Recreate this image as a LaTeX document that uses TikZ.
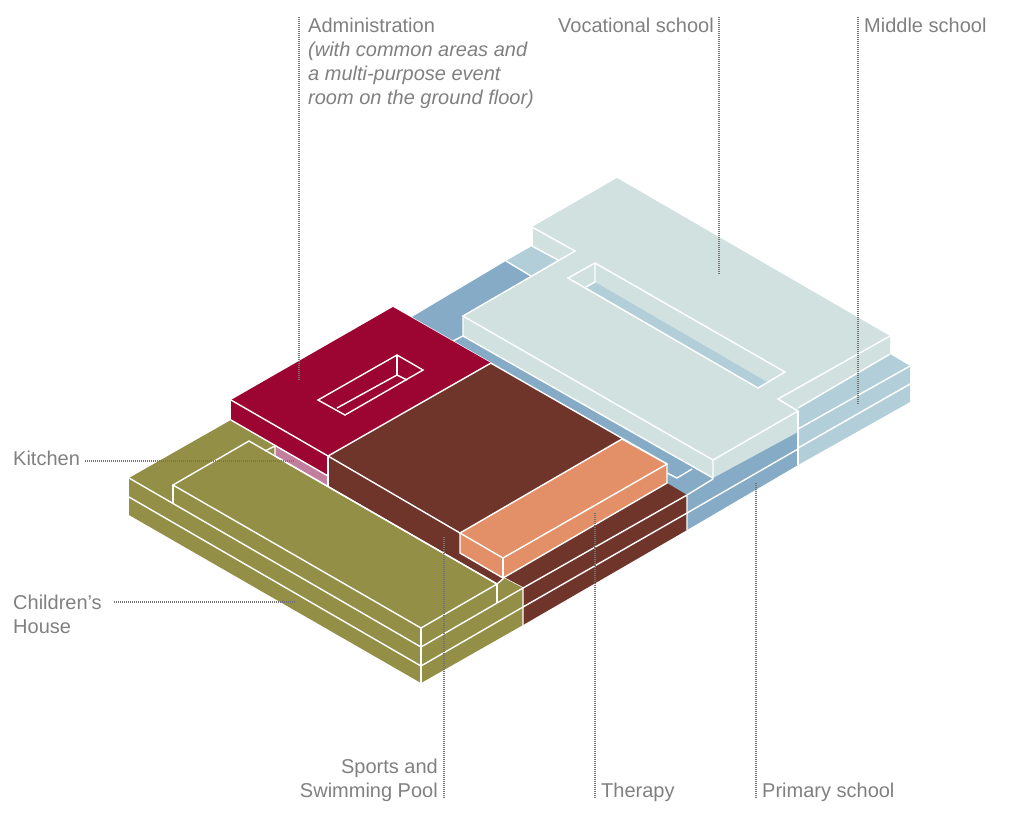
\documentclass[tikz,border=0pt]{standalone}
\usepackage{fontspec}
\setmainfont{Liberation Sans}
\usepackage{tikz}
\usetikzlibrary{positioning,calc}
\definecolor{palewing}{HTML}{D0E1E0}
\definecolor{midwing}{HTML}{B2CFD9}
\definecolor{bluewing}{HTML}{85ABC6}
\definecolor{adminred}{HTML}{9C0431}
\definecolor{sportsbrown}{HTML}{6F342A}
\definecolor{therapyorange}{HTML}{E39068}
\definecolor{houseolive}{HTML}{938F46}
\definecolor{kitchenpink}{HTML}{C27F9D}
\definecolor{labelgray}{HTML}{808080}
\begin{document}
\begin{tikzpicture}[
    x=1pt, y=-1pt,
    edge/.style={white, line width=1.4pt, line join=miter},
    leader/.style={draw=black!55, line width=1.4pt, dash pattern=on 1pt off 1pt},
    lbl/.style={text=labelgray, inner sep=0pt, font=\fontsize{20}{24}\selectfont}
]
    \useasboundingbox (0,0) rectangle (1024,820);

    \fill[midwing] (798,408) -- (890,354) -- (910,366) -- (910,402) -- (798,465) -- cycle;
    \fill[bluewing] (412,317) -- (506,261) -- (531,276) -- (798,432) -- (798,465) -- (687,530) -- (660,500) -- cycle;
    \fill[midwing] (506,261) -- (532,246) -- (558,260) -- (531,276) -- cycle;
    \fill[palewing] (617,178) -- (890,336) -- (890,354) -- (798,408) -- (798,432) -- (713,478) -- (463,336) -- (463,316) -- (558,261) -- (532,246) -- (532,227) -- cycle;
    \fill[midwing] (586,287) -- (595,282) -- (767,382) -- (758,388) -- cycle;

    \draw[edge] (798,429) -- (910,366);
    \draw[edge] (798,448) -- (910,384);
    \draw[edge] (798,408) -- (890,354);
    \draw[edge] (798,411) -- (798,465);
    \draw[edge] (798,449) -- (687,513);
    \draw[edge] (506,261) -- (531,276);
    \draw[edge] (532,246) -- (558,260);
    \draw[edge] (532,227) -- (532,246);
    \draw[edge] (532,227) -- (575,251) -- (463,316) -- (713,460) -- (798,411) -- (778,399) -- (890,336);
    \draw[edge] (463,316) -- (463,336) -- (713,478) -- (713,460);
    \draw[edge] (453,341) -- (463,336);
    \draw[edge] (687,495) -- (713,479);
    \draw[edge] (667,473) -- (677,478) -- (692,469);
    \draw[edge] (568,278) -- (595,263) -- (785,372) -- (758,388) -- cycle;
    \draw[edge] (595,263) -- (595,282) -- (586,287);

    \fill[sportsbrown] (328,456) -- (491,363) -- (622,439) -- (667,464) -- (667,483) -- (687,495) -- (687,530) -- (523,625) -- (523,600) -- (328,490) -- cycle;
    \draw[edge] (393,307) -- (667,464);
    \draw[edge] (523,588) -- (687,495) -- (687,530);
    \draw[edge] (523,607) -- (687,513);
    \draw[edge] (328,456) -- (460,533);
    \draw[edge] (504,578) -- (523,588);

    \fill[therapyorange] (460,533) -- (622,439) -- (667,464) -- (667,483) -- (503,578) -- (460,553) -- cycle;
    \draw[edge] (622,439) -- (667,464) -- (503,558) -- (460,533) -- cycle;
    \draw[edge] (667,464) -- (667,483) -- (503,578) -- (460,553) -- (460,533);
    \draw[edge] (503,558) -- (503,578);

    \fill[adminred] (231,400) -- (393,307) -- (491,363) -- (328,456) -- (328,476) -- (231,420) -- cycle;
    \draw[edge] (231,400) -- (328,456) -- (491,363);
    \draw[edge] (318,400) -- (397,355) -- (423,370) -- (345,415) -- cycle;
    \draw[edge] (337,408) -- (397,375) -- (407,380);
    \draw[edge] (397,355) -- (397,375);

    \fill[houseolive] (129,478) -- (231,420) -- (275,445) -- (275,456) -- (328,487) -- (497,584) -- (504,578) -- (523,588) -- (523,625) -- (421,683) -- (129,515) -- cycle;
    \fill[kitchenpink] (275,446) -- (328,476) -- (328,487) -- (275,456) -- cycle;
    \draw[edge] (231,420) -- (328,476);
    \draw[edge] (275,456) -- (497,584);
    \draw[edge] (328,456) -- (328,487);
    \draw[edge] (265,451) -- (275,446) -- (275,456);
    \draw[edge] (173,485) -- (249,441) -- (497,584) -- (421,628) -- cycle;
    \draw[edge] (173,485) -- (173,503);
    \draw[edge] (129,478) -- (421,647) -- (523,588) -- (523,625);
    \draw[edge] (129,497) -- (421,666) -- (523,607);
    \draw[edge] (421,628) -- (421,683);
    \draw[edge] (497,584) -- (504,578);
    \draw[edge] (497,584) -- (497,603);

    \node[lbl, anchor=base west, align=left] (administration) at (308,104) {Administration\\\itshape (with common areas and\\\itshape a multi-purpose event\\\itshape room on the ground floor)};
    \node[lbl, anchor=base east] (vocational) at (714,32) {Vocational school};
    \node[lbl, anchor=base west] (middle) at (864,32) {Middle school};
    \node[lbl, anchor=base west] (kitchen) at (13,465) {Kitchen};
    \node[lbl, anchor=base west, align=left] (childrens) at (13,633) {Children's\\House};
    \node[lbl, anchor=base east, align=right] (sports) at (438,797) {Sports and\\Swimming Pool};
    \node[lbl, anchor=base west] (therapy) at (601,797) {Therapy};
    \node[lbl, anchor=base west] (primary) at (762,797) {Primary school};

    \coordinate (adminend) at (299,380);
    \coordinate (vocationalend) at (719,275);
    \coordinate (middleend) at (858,405);
    \coordinate (kitchenend) at (295,461);
    \coordinate (childrensend) at (295,602);
    \coordinate (sportsend) at (444,537);
    \coordinate (therapyend) at (595,513);
    \coordinate (primaryend) at (756,482);

    \draw[leader] (299,17) -- (adminend);
    \draw[leader] (719,17) -- (vocationalend);
    \draw[leader] (858,17) -- (middleend);
    \draw[leader] (85,461) -- (kitchenend);
    \draw[leader] (114,602) -- (childrensend);
    \draw[leader] (444,798) -- (sportsend);
    \draw[leader] (595,798) -- (therapyend);
    \draw[leader] (756,798) -- (primaryend);
\end{tikzpicture}
\end{document}
